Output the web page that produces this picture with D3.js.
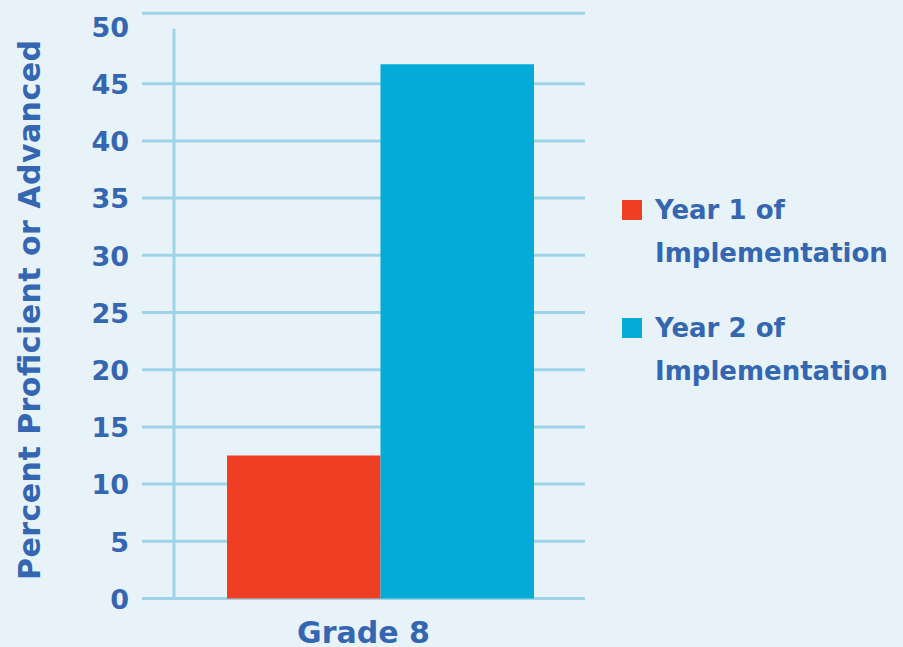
<!DOCTYPE html>
<html>
<head>
<meta charset="utf-8">
<script src="https://cdn.jsdelivr.net/npm/d3@7"></script>
<style>
  body { margin: 0; background: #e8f3f9; }
  svg text { font-family: "DejaVu Sans", sans-serif; font-weight: 700; fill: #3466b1; }
</style>
</head>
<body>
<svg id="chart" width="903" height="647"></svg>
<script>
// chart data
var categories = ["Grade 8"];
var seriesNames = ["Year 1 of Implementation", "Year 2 of Implementation"];
var seriesValues = [12.5, 46.7];
var tickValues = [0, 5, 10, 15, 20, 25, 30, 35, 40, 45, 50];
var colours = ["#ef3f23", "#03acd6"];

var svg = d3.select("#chart");

var margin = {top: 26.5, left: 142, right: 318, bottom: 48.5};
var width = 903 - margin.left - margin.right,
    height = 647 - margin.top - margin.bottom;

var g = svg.append("g")
    .attr("transform", "translate(" + margin.left + "," + margin.top + ")");

var y = d3.scaleLinear().domain([0, 50]).range([height, 0]);

// bars sit a bit right of centre in the plot
var x0 = d3.scaleBand().domain(categories).range([0, width])
    .paddingInner(0).paddingOuter(0.2215).align(0.625);
var x1 = d3.scaleBand().domain(seriesNames).range([0, x0.bandwidth()]);

// horizontal grid lines (the 50 line is drawn as the top frame, a bit higher)
g.selectAll(".grid")
    .data(tickValues.filter(d => d < 50))
    .enter().append("line")
    .attr("x1", 0)
    .attr("x2", width)
    .attr("y1", d => y(d))
    .attr("y2", d => y(d))
    .attr("stroke", "#9fd3ea")
    .attr("stroke-width", 3);

g.append("line")
    .attr("x1", 0).attr("x2", width)
    .attr("y1", y(51.15)).attr("y2", y(51.15))
    .attr("stroke", "#9fd3ea").attr("stroke-width", 3);

// vertical axis line
g.append("line")
    .attr("x1", 32).attr("x2", 32)
    .attr("y1", y(49.8)).attr("y2", y(0))
    .attr("stroke", "#9fd3ea").attr("stroke-width", 3);

// tick labels
g.append("g")
    .call(d3.axisLeft(y).tickValues(tickValues).tickSize(0).tickPadding(13))
    .call(a => a.select(".domain").remove())
    .selectAll("text")
    .style("font-family", "'DejaVu Sans', sans-serif")
    .style("font-weight", 700)
    .style("font-size", "27px")
    .attr("fill", "#3466b1")
    .attr("dy", "0.36em");

// bars
var groups = g.selectAll(".grp")
    .data(categories)
    .enter().append("g")
    .attr("transform", d => "translate(" + x0(d) + ",0)");

groups.selectAll("rect")
    .data(seriesValues.map((v, i) => ({name: seriesNames[i], value: v, colour: colours[i]})))
    .enter().append("rect")
    .attr("x", d => x1(d.name))
    .attr("width", x1.bandwidth())
    .attr("y", d => y(d.value))
    .attr("height", d => height - y(d.value))
    .attr("fill", d => d.colour);

// x category label, centred on the plot
g.selectAll(".cat")
    .data(categories)
    .enter().append("text")
    .attr("x", width / 2)
    .attr("y", height + 44)
    .attr("text-anchor", "middle")
    .style("font-size", "30px")
    .text(d => d);

// y axis title
svg.append("text")
    .attr("transform", "translate(40," + 310 + ") rotate(-90)")
    .attr("text-anchor", "middle")
    .attr("textLength", 540)
    .attr("lengthAdjust", "spacing")
    .style("font-size", "30px")
    .text("Percent Proficient or Advanced");

// legend
var legend = svg.append("g").attr("transform", "translate(622,200)");
var legendLines = [["Year 1 of", "Implementation"], ["Year 2 of", "Implementation"]];

legend.selectAll("rect")
    .data(seriesNames)
    .enter().append("rect")
    .attr("x", 0)
    .attr("y", (d, i) => i * 118)
    .attr("width", 20)
    .attr("height", 20)
    .attr("fill", (d, i) => colours[i]);

legend.selectAll("text")
    .data(legendLines)
    .enter().append("text")
    .attr("x", 33)
    .attr("y", (d, i) => i * 118 + 19)
    .style("font-size", "26px")
    .each(function (d) {
        d3.select(this).selectAll("tspan")
            .data(d)
            .enter().append("tspan")
            .attr("x", 33)
            .attr("dy", (t, j) => j === 0 ? 0 : 43)
            .text(t => t);
    });
</script>
</body>
</html>
